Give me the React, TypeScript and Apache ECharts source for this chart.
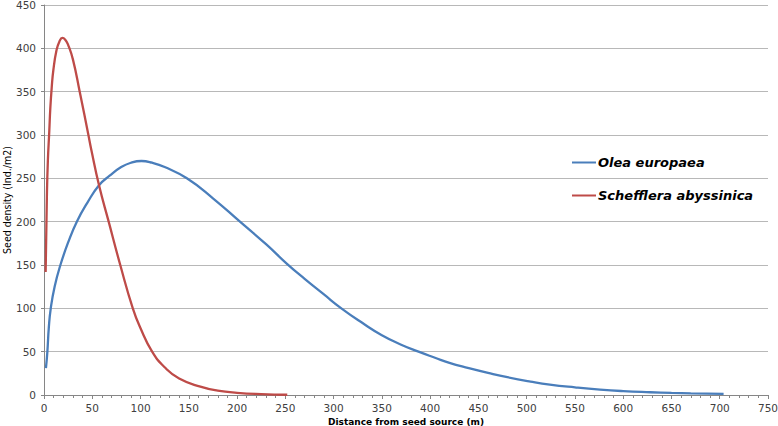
import React, { useEffect, useRef } from "react";
import * as echarts from "echarts";

const oleaX = [2, 3.5, 5, 7, 11, 17, 25, 34, 45, 57, 68, 80, 90, 101, 112, 125, 148, 175, 203, 230, 252, 270, 290, 308, 330, 350, 370, 388, 405, 420, 440, 460, 480, 504, 524, 550, 576, 600, 628, 650, 670, 704];
const oleaY = [31, 50, 78, 100, 125, 150, 176, 200, 222, 242, 253, 263, 268, 270, 268, 263, 250, 227, 200, 174, 151, 134, 116, 100, 83, 69, 58, 50, 43, 37, 31, 25.5, 20.5, 15.5, 12, 8.8, 6.2, 4.5, 3.2, 2.4, 1.9, 1.2];

const scheX = [1.7, 3, 4, 5.5, 6.5, 8, 9.7, 13, 16, 19, 22, 25, 30, 37, 46, 49, 57, 67, 79, 92, 100, 112, 125, 140, 162, 180, 200, 225, 252];
const scheY = [142, 230, 270, 305, 330, 355, 375, 398, 408, 412, 410, 404, 387, 350, 300, 283, 242, 200, 150, 100, 77, 50, 32, 19, 9.6, 5, 2.5, 1, 0.3];

const seriesNames = ["Olea europaea", "Schefflera abyssinica"];
const xTitle = "Distance from seed source (m)";
const yTitle = "Seed density (Ind./m2)";

const zip = (xs: number[], ys: number[]) => xs.map((x, i) => [x, ys[i]]);

export default function App() {
  const ref = useRef<HTMLDivElement>(null);
  useEffect(() => {
    if (!ref.current) return;
    const chart = echarts.init(ref.current, undefined, { renderer: "svg" });
    const labelStyle = { color: "#404040", fontFamily: "DejaVu Sans", fontSize: 10.5 };
    chart.setOption({
      animation: false,
      backgroundColor: "#ffffff",
      grid: { left: 44, right: 10, top: 5, bottom: 31, containLabel: false, outerBoundsMode: "none" },
      legend: {
        orient: "vertical",
        left: 567,
        top: 151,
        itemGap: 20,
        itemWidth: 24,
        itemHeight: 2,
        icon: "rect",
        textStyle: {
          fontFamily: "DejaVu Sans",
          fontStyle: "italic",
          fontWeight: "bold",
          fontSize: 13,
          color: "#000",
          padding: [0, 0, 0, -3],
        },
        data: seriesNames,
      },
      xAxis: {
        type: "value",
        min: 0,
        max: 750,
        interval: 50,
        name: xTitle,
        nameLocation: "middle",
        nameGap: 22,
        nameMoveOverlap: false,
        nameTextStyle: { fontFamily: "DejaVu Sans", fontSize: 9, fontWeight: "bold", color: "#000" },
        axisLine: { show: true, lineStyle: { color: "#868686", width: 1 } },
        axisTick: { show: true, length: 4, lineStyle: { color: "#868686" } },
        minorTick: { show: true, splitNumber: 5, length: 3, lineStyle: { color: "#868686" } },
        axisLabel: { ...labelStyle, margin: 7 },
        splitLine: { show: false },
      },
      yAxis: {
        type: "value",
        min: 0,
        max: 450,
        interval: 50,
        name: yTitle,
        nameLocation: "middle",
        nameGap: 32,
        nameMoveOverlap: false,
        nameTextStyle: { fontFamily: "DejaVu Sans Condensed", fontSize: 10.5, color: "#000" },
        axisLine: { show: true, lineStyle: { color: "#868686", width: 1 } },
        axisTick: { show: true, length: 3, lineStyle: { color: "#868686" } },
        axisLabel: { ...labelStyle, margin: 8 },
        splitLine: { show: true, lineStyle: { color: "#b8b8b8", width: 1 } },
      },
      series: [
        {
          name: seriesNames[0],
          type: "line",
          data: zip(oleaX, oleaY),
          smooth: 0.5,
          showSymbol: false,
          symbol: "none",
          lineStyle: { color: "#4a7ebb", width: 2.3 },
          itemStyle: { color: "#4a7ebb" },
        },
        {
          name: seriesNames[1],
          type: "line",
          data: zip(scheX, scheY),
          smooth: 0.5,
          showSymbol: false,
          symbol: "none",
          lineStyle: { color: "#be4b48", width: 2.3 },
          itemStyle: { color: "#be4b48" },
        },
      ],
    });
    return () => chart.dispose();
  }, []);
  return (
    <div
      ref={ref}
      style={{ position: "fixed", left: 0, top: 0, width: 778, height: 426, background: "#fff" }}
    />
  );
}
